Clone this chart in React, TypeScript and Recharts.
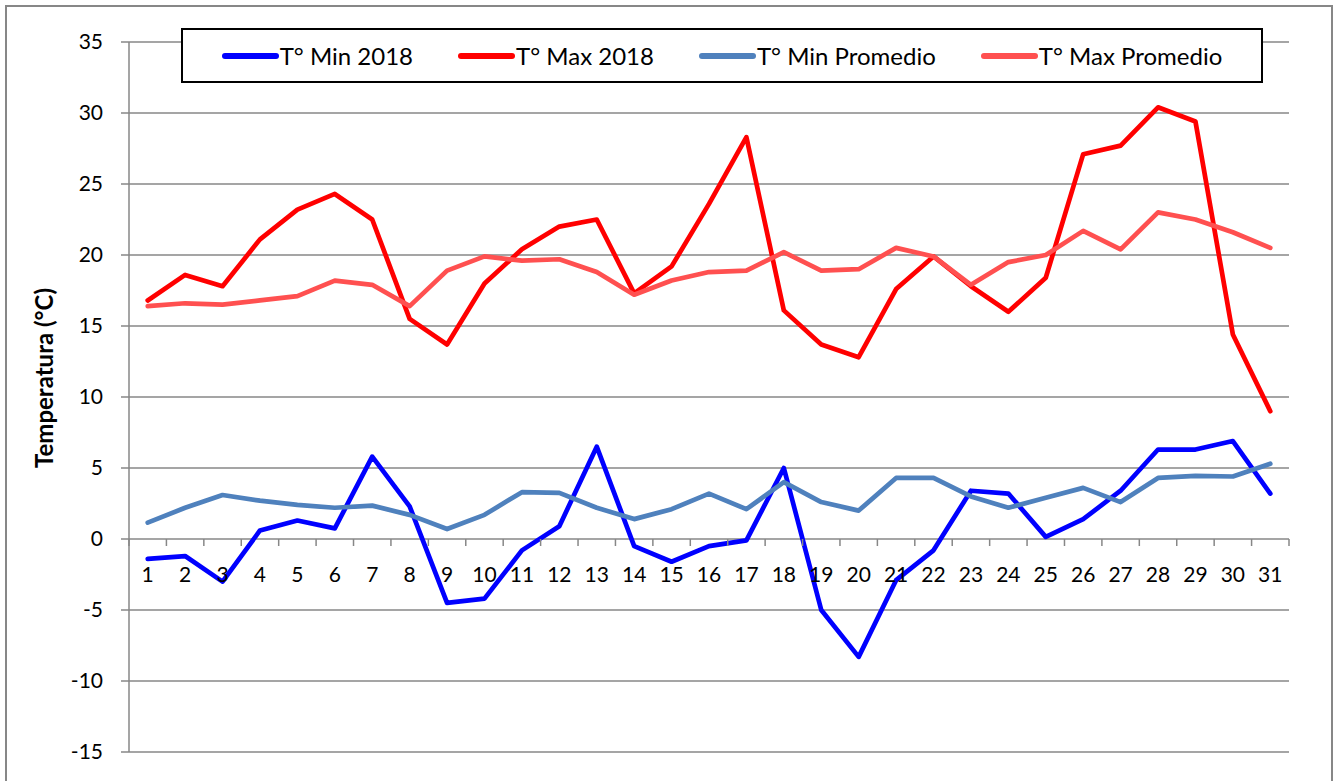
import { LineChart, Line, XAxis, YAxis, CartesianGrid, Legend } from "recharts";

const DAYS = ["1","2","3","4","5","6","7","8","9","10","11","12","13","14","15","16","17","18","19","20","21","22","23","24","25","26","27","28","29","30","31"];

const T_MIN_2018 = [-1.4, -1.2, -3.0, 0.6, 1.3, 0.75, 5.8, 2.3, -4.5, -4.2, -0.8, 0.9, 6.5, -0.5, -1.6, -0.5, -0.1, 5.0, -5.0, -8.3, -2.9, -0.8, 3.4, 3.2, 0.15, 1.4, 3.4, 6.3, 6.3, 6.9, 3.2];
const T_MAX_2018 = [16.8, 18.6, 17.8, 21.1, 23.2, 24.3, 22.5, 15.5, 13.7, 18.0, 20.4, 22.0, 22.5, 17.3, 19.2, 23.6, 28.3, 16.1, 13.7, 12.8, 17.6, 19.9, 17.8, 16.0, 18.4, 27.1, 27.7, 30.4, 29.4, 14.4, 9.0];
const T_MIN_PROM = [1.15, 2.2, 3.1, 2.7, 2.4, 2.2, 2.35, 1.7, 0.7, 1.7, 3.3, 3.25, 2.2, 1.4, 2.1, 3.2, 2.1, 4.0, 2.6, 2.0, 4.3, 4.3, 3.0, 2.2, 2.9, 3.6, 2.6, 4.3, 4.45, 4.4, 5.3];
const T_MAX_PROM = [16.4, 16.6, 16.5, 16.8, 17.1, 18.2, 17.9, 16.4, 18.9, 19.9, 19.6, 19.7, 18.8, 17.2, 18.2, 18.8, 18.9, 20.2, 18.9, 19.0, 20.5, 19.9, 17.9, 19.5, 20.0, 21.7, 20.4, 23.0, 22.5, 21.6, 20.5];

const Y_TICKS = [-15, -10, -5, 0, 5, 10, 15, 20, 25, 30, 35];

const SERIES = [
  { key: "min2018", name: "T° Min 2018", color: "#0000ff" },
  { key: "max2018", name: "T° Max 2018", color: "#ff0000" },
  { key: "minProm", name: "T° Min Promedio", color: "#4f81bd" },
  { key: "maxProm", name: "T° Max Promedio", color: "#ff5050" },
];

const data = DAYS.map((day, i) => ({
  day,
  min2018: T_MIN_2018[i],
  max2018: T_MAX_2018[i],
  minProm: T_MIN_PROM[i],
  maxProm: T_MAX_PROM[i],
}));

// layout
const W = 1339;
const H = 781;
const MARGIN = { top: 42, right: 50, bottom: 28, left: 69 };
const Y_AXIS_W = 60;
const X_AXIS_H = 1;
const PLOT_W = W - MARGIN.left - MARGIN.right - Y_AXIS_W;
const PLOT_H = H - MARGIN.top - MARGIN.bottom - X_AXIS_H;
const Y_MIN = -15;
const Y_MAX = 35;
const ZERO_Y = MARGIN.top + (PLOT_H * Y_MAX) / (Y_MAX - Y_MIN);
const BAND = PLOT_W / DAYS.length;

const GRID = "#878787";
const FONT = "Lato, 'Open Sans', sans-serif";

// Excel-style category axis sitting on the zero line
function DayTick(props: any) {
  const { x, payload, index } = props;
  return (
    <g>
      {index === 0 && (
        <line x1={x - BAND / 2} x2={x - BAND / 2} y1={ZERO_Y} y2={ZERO_Y + 7} stroke={GRID} strokeWidth={1.5} />
      )}
      <line x1={x + BAND / 2} x2={x + BAND / 2} y1={ZERO_Y} y2={ZERO_Y + 7} stroke={GRID} strokeWidth={1.5} />
      <text x={x} y={ZERO_Y + 43} textAnchor="middle" fill="#000" fontSize={21} fontFamily={FONT}>
        {payload.value}
      </text>
    </g>
  );
}

function LegendBox(props: any) {
  const order = SERIES.map((s) => s.name);
  const items = [...(props.payload || [])].sort((a: any, b: any) => order.indexOf(a.value) - order.indexOf(b.value));
  return (
    <div
      style={{
        display: "flex",
        alignItems: "center",
        justifyContent: "center",
        gap: 45,
        height: "100%",
        fontFamily: FONT,
        fontSize: 24,
        color: "#000",
      }}
    >
      {items.map((it: any) => (
        <div key={it.value} style={{ display: "flex", alignItems: "center" }}>
          <svg width={57} height={10}>
            <line x1={3} x2={54} y1={5} y2={5} stroke={it.color} strokeWidth={6} strokeLinecap="round" />
          </svg>
          <span style={{ marginLeft: 1, whiteSpace: "nowrap" }}>{it.value}</span>
        </div>
      ))}
    </div>
  );
}

export default function App() {
  return (
    <div style={{ position: "absolute", left: 0, top: 0, width: W, height: H, overflow: "hidden", background: "#fff" }}>
      <div
        style={{
          position: "absolute",
          left: 5,
          top: 5,
          width: 1328,
          height: 820,
          border: `2px solid ${GRID}`,
          boxSizing: "border-box",
        }}
      />
      <div style={{ position: "absolute", left: 0, top: 0 }}>
        <LineChart width={W} height={H} data={data} margin={MARGIN}>
          <CartesianGrid horizontal vertical={false} stroke={GRID} strokeWidth={1.5} />
          <XAxis
            dataKey="day"
            height={X_AXIS_H}
            interval={0}
            padding={{ left: BAND / 2, right: BAND / 2 }}
            axisLine={false}
            tickLine={false}
            tick={DayTick}
          />
          <YAxis
            width={Y_AXIS_W}
            domain={[Y_MIN, Y_MAX]}
            ticks={Y_TICKS}
            interval={0}
            axisLine={{ stroke: GRID, strokeWidth: 1.5 }}
            tickLine={{ stroke: GRID, strokeWidth: 1.5 }}
            tickSize={8}
            tickMargin={18}
            tick={{ fill: "#000", fontSize: 21, fontFamily: FONT }}
            label={{
              content: () => (
                <text
                  transform={`translate(53, 468) rotate(-90)`}
                  textAnchor="start"
                  fontFamily={FONT}
                  fontWeight="bold"
                  fontSize={24}
                  fill="#000"
                >
                  Temperatura (°C)
                </text>
              ),
            }}
          />
          <Legend
            layout="horizontal"
            verticalAlign="middle"
            align="center"
            content={LegendBox}
            wrapperStyle={{
              top: 28,
              left: 181,
              width: 1082,
              height: 55,
              border: "2px solid #000",
              boxSizing: "border-box",
              background: "#fff",
            }}
          />
          {SERIES.map((s) => (
            <Line
              key={s.key}
              type="linear"
              dataKey={s.key}
              name={s.name}
              stroke={s.color}
              strokeWidth={4.7}
              strokeLinejoin="round"
              strokeLinecap="round"
              dot={false}
              activeDot={false}
              isAnimationActive={false}
            />
          ))}
        </LineChart>
      </div>
    </div>
  );
}
